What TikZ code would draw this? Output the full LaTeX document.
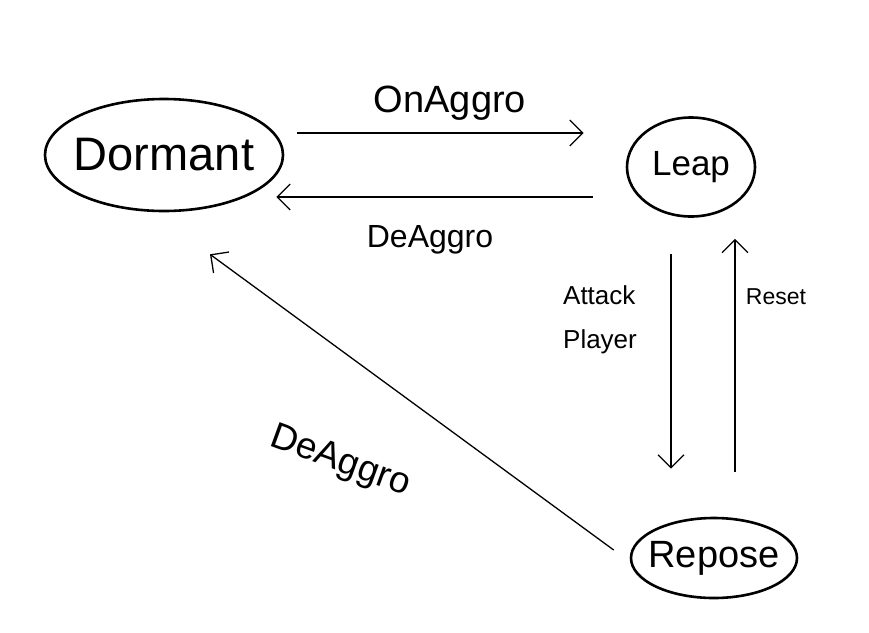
\documentclass[tikz,border=0pt]{standalone}
\usepackage{fontspec}
\setmainfont{Liberation Sans}
\usetikzlibrary{shapes.geometric,arrows.meta}
\begin{document}
\begin{tikzpicture}[x=1pt,y=-1pt,
  state/.style={draw,ellipse,line width=2.6pt,inner xsep=-40pt,inner ysep=-20pt},
  conn/.style={line width=1.3pt,-{Straight Barb[length=13pt,width=26pt,line width=1.3pt]}},
  lbl/.style={inner sep=0pt}]
\useasboundingbox (0,0) rectangle (869,632);
\node[state,minimum width=238pt,minimum height=112pt,font=\fontsize{47}{50}\selectfont] (dormant) at (164,155) {Dormant};
\node[state,minimum width=128pt,minimum height=99pt,font=\fontsize{35}{38}\selectfont] (leap) at (691,167) {Leap};
\node[state,minimum width=166pt,minimum height=80pt,font=\fontsize{38}{42}\selectfont] (repose) at (714,558) {Repose};
% connectors
\draw[conn] ([xshift=13pt,yshift=22pt]dormant.east) -- ([xshift=-42pt,yshift=34pt]leap.west);
\draw[conn] ([xshift=-33pt,yshift=-30pt]leap.west) -- ([xshift=-8pt,yshift=-42pt]dormant.east);
\draw[conn] ([xshift=-20pt,yshift=-36pt]leap.south) -- ([xshift=-43pt,yshift=48pt]repose.north);
\draw[conn] ([xshift=21pt,yshift=45pt]repose.north) -- ([xshift=44pt,yshift=-21pt]leap.south);
\draw[conn] ([xshift=-16pt,yshift=8pt]repose.west) -- ([xshift=46pt,yshift=-42pt]dormant.south);
% labels
\node[lbl,font=\fontsize{38}{42}\selectfont] (l1) at (450,103) {OnAggro};
\node[lbl,font=\fontsize{32}{36}\selectfont] (l2) at (430,240) {DeAggro};
\node[lbl,font=\fontsize{26}{44}\selectfont,align=left] (l3) at (600,320) {Attack\\Player};
\node[lbl,font=\fontsize{23}{26}\selectfont] (l4) at (776,297) {Reset};
\node[lbl,font=\fontsize{37}{40}\selectfont,rotate=-20] (l5) at (340,462) {DeAggro};
\end{tikzpicture}
\end{document}
